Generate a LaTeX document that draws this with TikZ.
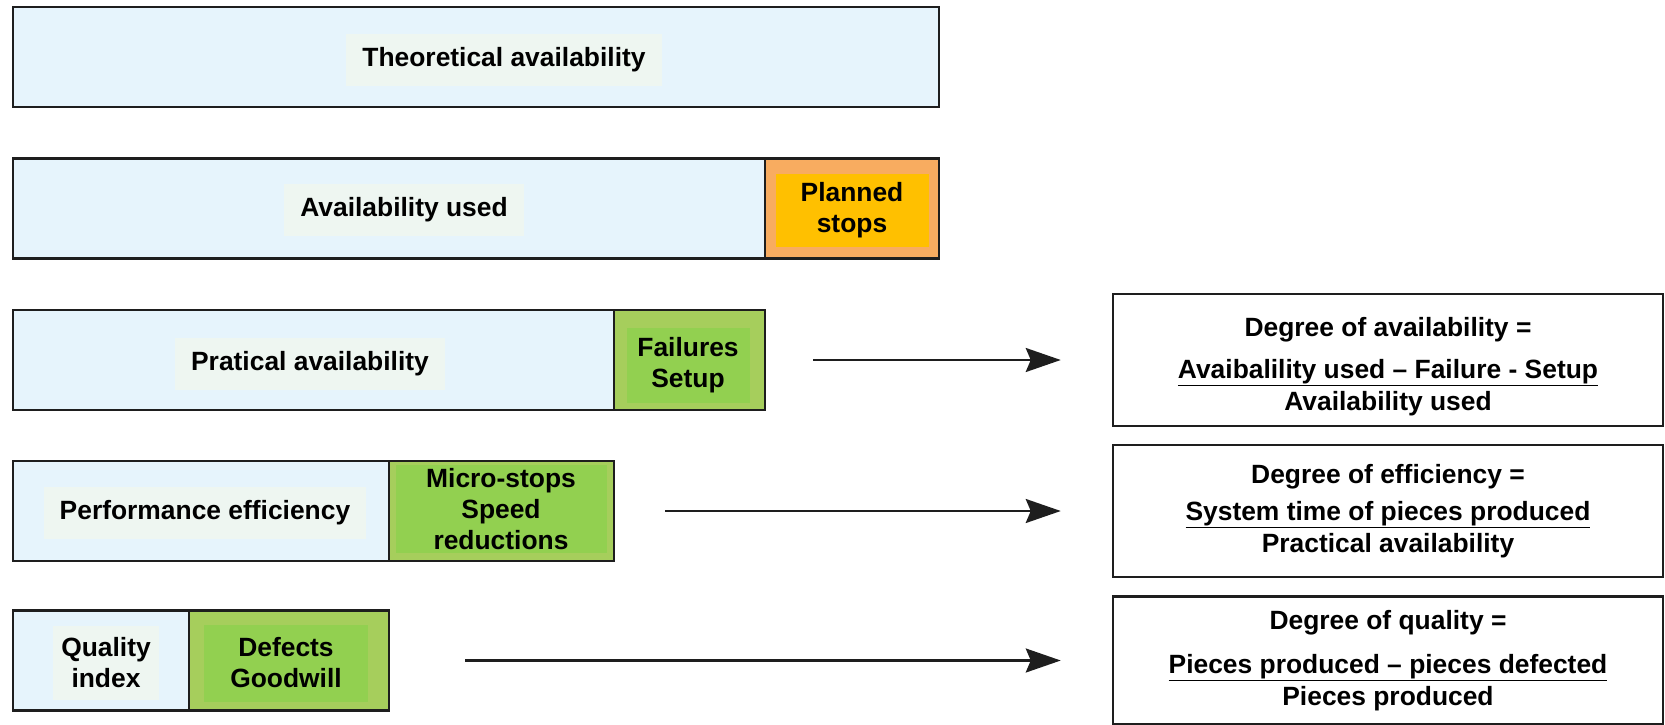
\documentclass[tikz,border=0pt]{standalone}
\usepackage{fontspec}
\setmainfont{Liberation Sans}
\usetikzlibrary{arrows.meta,positioning}
\definecolor{barblue}{RGB}{230,244,252}
\definecolor{panelbg}{RGB}{238,246,241}
\definecolor{barline}{RGB}{30,30,30}
\definecolor{orangeout}{RGB}{248,172,96}
\definecolor{orangein}{RGB}{255,192,0}
\definecolor{greenout}{RGB}{166,206,92}
\definecolor{greenin}{RGB}{146,208,80}
\begin{document}
\begin{tikzpicture}[x=1pt,y=-1pt,
  bar/.style={rectangle, draw=barline, line width=2.5pt, fill=barblue,
    inner sep=0pt, minimum height=100pt},
  lbl/.style={rectangle, fill=panelbg, inner xsep=16pt, minimum height=52pt,
    font=\fontsize{26.4}{31}\selectfont\bfseries, align=center},
  loss/.style={rectangle, inner sep=0pt,
    font=\fontsize{26.4}{31}\selectfont\bfseries, align=center},
  res/.style={rectangle, draw=barline, line width=2.5pt, fill=white,
    minimum width=550pt, inner sep=0pt,
    font=\fontsize{26.4}{32}\selectfont\bfseries, align=center},
  bigarrow/.style={-{Stealth[length=35pt,width=24pt,inset=5pt]},
    line width=2.5pt, color=barline}
]
\useasboundingbox (0,0) rectangle (1665,725);
% time bars
\node[bar, minimum width=926pt] (theo) at (476,57) {};
\node[bar, minimum width=752pt] (used) at (389,208.5) {};
\node[bar, minimum width=174pt, fill=orangeout] (plan) at (852,208.5) {};
\node[bar, minimum width=601pt] (prac) at (313.5,360) {};
\node[bar, minimum width=151pt, fill=greenout] (fail) at (689.5,360) {};
\node[bar, minimum width=376pt] (perf) at (201,511) {};
\node[bar, minimum width=225pt, fill=greenout] (micro) at (501.5,511) {};
\node[bar, minimum width=176pt] (qual) at (101,660.5) {};
\node[bar, minimum width=200pt, fill=greenout] (defe) at (289,660.5) {};
% labels
\node[lbl] (ltheo) at (504,60) {Theoretical availability};
\node[lbl] (lused) at (404,210) {Availability used};
\node[lbl] (lprac) at (310,364) {Pratical availability};
\node[lbl] (lperf) at (205,513) {Performance efficiency};
\node[lbl, inner xsep=8pt, minimum height=74pt] (lqual) at (106,663) {Quality\\index};
\node[loss, fill=orangein, minimum width=153pt, minimum height=73pt] (lplan) at (852,210) {Planned\\stops};
\node[loss, fill=greenin, minimum width=123pt, minimum height=75pt] (lfail) at (688,365) {Failures\\Setup};
\node[loss, fill=greenin, minimum width=211pt, minimum height=88pt] (lmicro) at (501,509) {Micro-stops\\Speed\\reductions};
\node[loss, fill=greenin, minimum width=164pt, minimum height=77pt] (ldefe) at (286,663) {Defects\\Goodwill};
% degree boxes
\node[res, minimum height=132pt] (res1) at (1388,360)
  {\rule{0pt}{33pt}Degree of availability =\\[10pt] \underline{Avaibalility used -- Failure - Setup}\\ Availability used};
\node[res, minimum height=132pt] (res2) at (1388,511)
  {Degree of efficiency =\\[5pt] \underline{System time of pieces produced}\\ Practical availability};
\node[res, minimum height=128pt] (res3) at (1388,660.5)
  {Degree of quality =\\[12pt] \underline{Pieces produced -- pieces defected}\\ Pieces produced};
% arrows
\draw[bigarrow, shorten <=47pt, shorten >=51pt] (fail.east) -- (res1.west);
\draw[bigarrow, shorten <=50pt, shorten >=51pt] (micro.east) -- (res2.west);
\draw[bigarrow, shorten <=75pt, shorten >=51pt] (defe.east) -- (res3.west);
\end{tikzpicture}
\end{document}
